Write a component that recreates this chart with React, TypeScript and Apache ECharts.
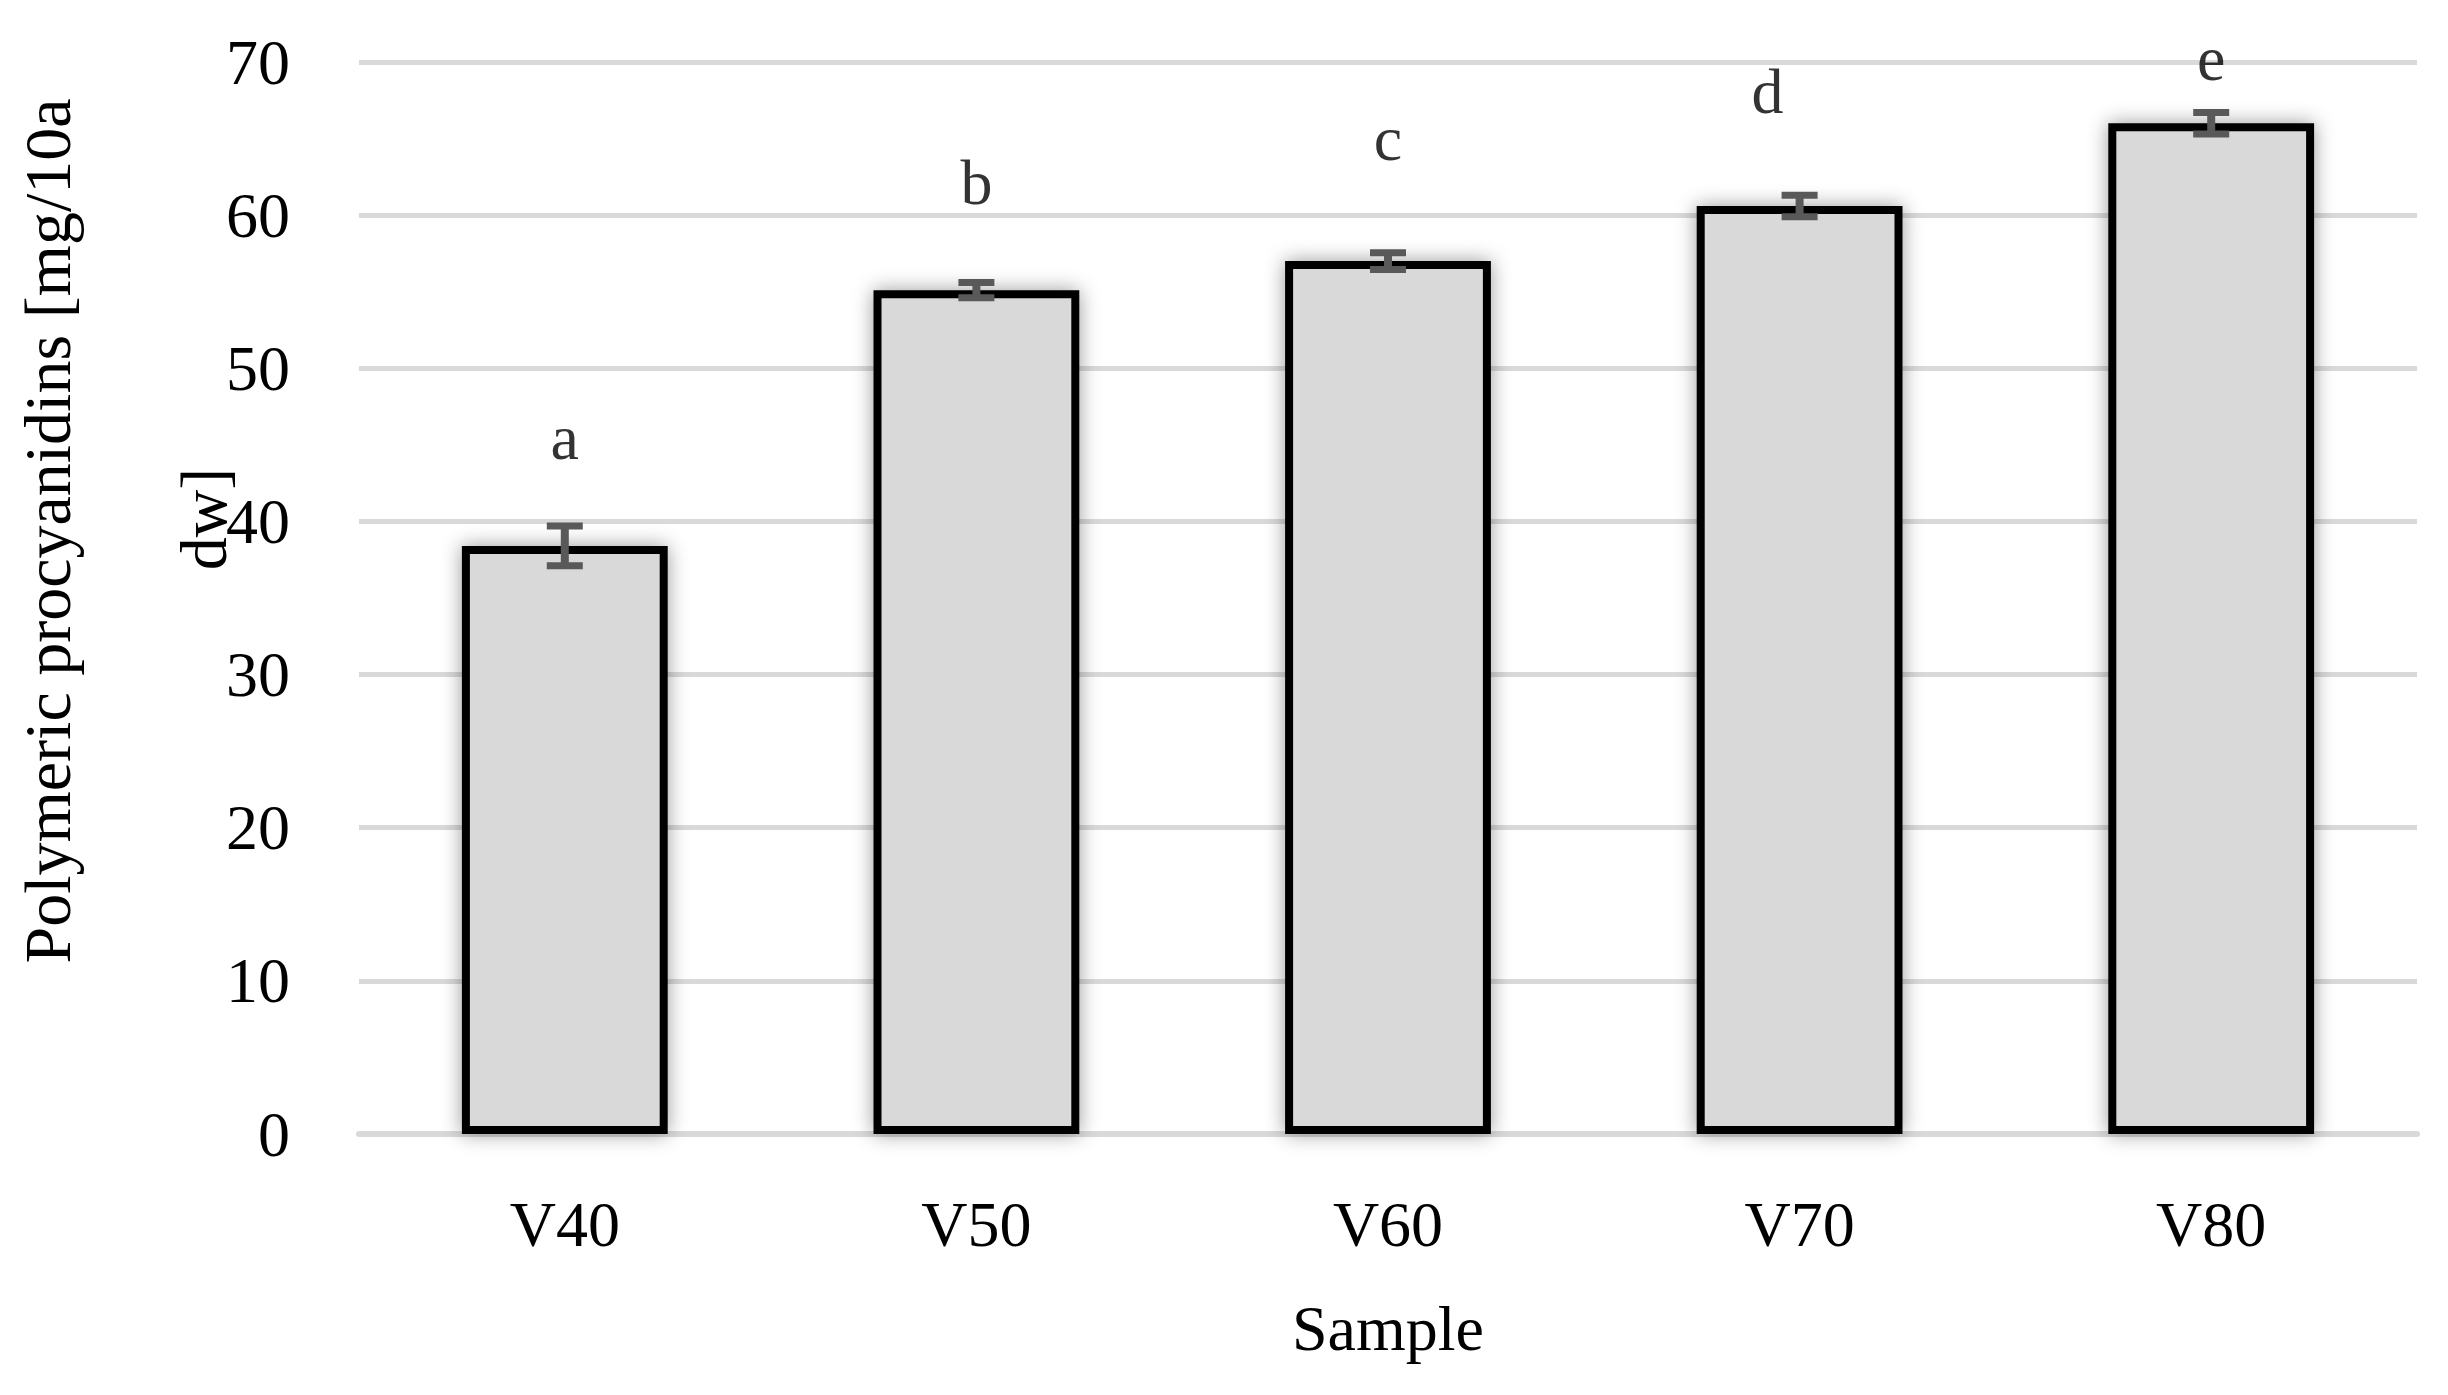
import React, { useEffect, useRef } from "react";
import * as echarts from "echarts";

const categories = ["V40", "V50", "V60", "V70", "V80"];
const values = [38.4, 55.1, 57.0, 60.6, 66.0];
const errors = [1.3, 0.5, 0.55, 0.7, 0.7];
const letters = ["a", "b", "c", "d", "e"];
const letterLevels = [45.5, 62.1, 65.0, 68.1, 70.2];
const yTicks = [0, 10, 20, 30, 40, 50, 60, 70];
const yTitleLines = ["Polymeric procyanidins [mg/10a", "dw]"];
const xTitle = "Sample";

const FONT = "'Liberation Serif', 'Times New Roman', serif";

export default function App() {
  const ref = useRef<HTMLDivElement>(null);
  useEffect(() => {
    document.body.style.margin = "0";
    const chart = echarts.init(ref.current!, null, { renderer: "svg" });
    chart.setOption({
      animation: false,
      backgroundColor: "#ffffff",
      textStyle: { fontFamily: FONT },
      grid: { left: 359, right: 31, top: 62, bottom: 261, containLabel: false },
      xAxis: {
        type: "category",
        data: categories,
        name: xTitle,
        nameLocation: "middle",
        nameGap: 162,
        nameTextStyle: { fontFamily: FONT, fontSize: 64, color: "#000" },
        axisLine: { show: true, lineStyle: { color: "#d9d9d9", width: 6 } },
        axisTick: { show: false },
        axisLabel: { fontFamily: FONT, fontSize: 64, color: "#000", margin: 58 },
      },
      yAxis: {
        type: "value",
        min: yTicks[0],
        max: yTicks[yTicks.length - 1],
        interval: 10,
        axisLine: { show: false },
        axisTick: { show: false },
        splitLine: { show: true, lineStyle: { color: "#d9d9d9", width: 5 } },
        axisLabel: { fontFamily: FONT, fontSize: 64, color: "#000", margin: 69 },
      },
      graphic: [
        {
          type: "text",
          x: 47,
          y: 531,
          rotation: Math.PI / 2,
          style: {
            text: yTitleLines[0],
            font: `66px ${FONT}`,
            fill: "#000",
            align: "center",
            verticalAlign: "middle",
          },
          z: 10,
        },
        {
          type: "text",
          x: 203,
          y: 519,
          rotation: Math.PI / 2,
          style: {
            text: yTitleLines[1],
            font: `66px ${FONT}`,
            fill: "#000",
            align: "center",
            verticalAlign: "middle",
          },
          z: 10,
        },
      ],
      series: [
        {
          type: "bar",
          data: values,
          barWidth: "50%",
          itemStyle: {
            color: "#d9d9d9",
            borderColor: "#000",
            borderWidth: 8,
            shadowBlur: 20,
            shadowColor: "rgba(0,0,0,0.4)",
          },
          z: 2,
        },
        {
          type: "custom",
          z: 5,
          data: categories.map((c, i) => [i, values[i], errors[i]]),
          encode: { x: 0, y: 1 },
          renderItem: (params: any, api: any) => {
            const x = api.value(0);
            const v = api.value(1);
            const e = api.value(2);
            const top = api.coord([x, v + e]);
            const bot = api.coord([x, v - e]);
            const hw = 18;
            const st = { stroke: "#595959", lineWidth: 7 };
            return {
              type: "group",
              children: [
                { type: "line", shape: { x1: top[0], y1: top[1], x2: bot[0], y2: bot[1] }, style: { ...st, lineWidth: 8 } },
                { type: "line", shape: { x1: top[0] - hw, y1: top[1], x2: top[0] + hw, y2: top[1] }, style: st },
                { type: "line", shape: { x1: bot[0] - hw, y1: bot[1], x2: bot[0] + hw, y2: bot[1] }, style: st },
              ],
            };
          },
        },
        {
          type: "scatter",
          clip: false,
          symbolSize: 1,
          itemStyle: { color: "rgba(0,0,0,0)" },
          data: categories.map((c, i) => ({
            value: [i, letterLevels[i]],
            name: letters[i],
            label: i === 3 ? { offset: [-32, 0] } : undefined,
          })),
          label: {
            show: true,
            position: "inside",
            formatter: (p: any) => p.name,
            fontFamily: FONT,
            fontSize: 64,
            color: "#000",
          },
          z: 6,
        },
      ],
    });
    return () => chart.dispose();
  }, []);
  return <div ref={ref} style={{ width: 2448, height: 1395 }} />;
}
